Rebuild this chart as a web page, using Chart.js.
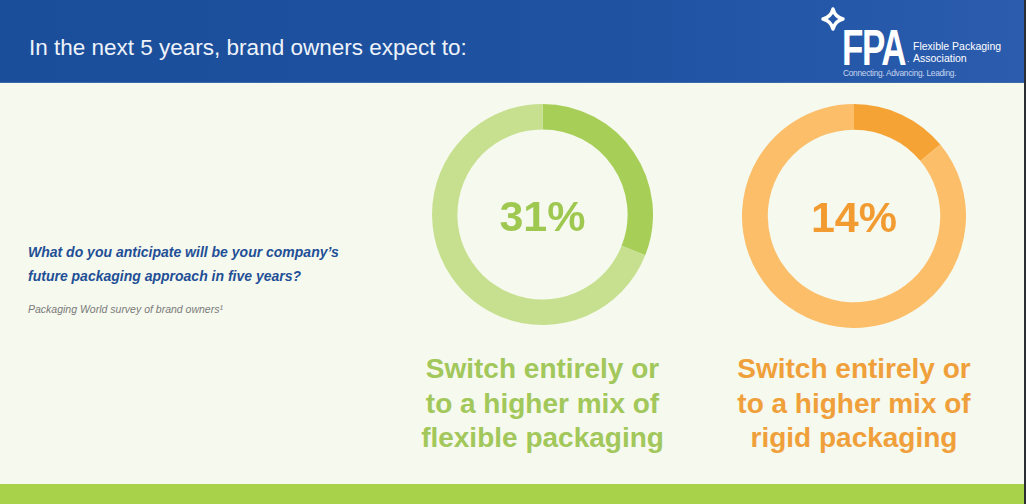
<!DOCTYPE html>
<html>
<head>
<meta charset="utf-8">
<script src="https://cdn.jsdelivr.net/npm/chart.js@4.4.1/dist/chart.umd.min.js"></script>
<style>
  html, body { margin:0; padding:0; }
  body { width:1026px; height:504px; position:relative; overflow:hidden; background:#f6f9ee; font-family:"Liberation Sans", Arial, sans-serif; }
  #header { position:absolute; left:0; top:0; width:1026px; height:82px; background:linear-gradient(90deg,#1a4e9a 0%,#1f53a2 60%,#2b5cae 100%); border-bottom:1px solid #3d6aa8; }
  #title { position:absolute; left:29px; top:34px; font-size:22.5px; color:#eef3fb; white-space:nowrap; line-height:28px; }
  #footer { position:absolute; left:0; top:484px; width:1026px; height:20px; background:#a9d24b; }
  #edge { position:absolute; left:1024px; top:0; width:2px; height:504px; background:#2b2f33; }
  .q { position:absolute; left:28px; font-size:14px; font-weight:bold; font-style:italic; color:#1f4f96; white-space:nowrap; }
  #src { position:absolute; left:28px; top:303px; font-size:10.5px; font-style:italic; color:#7a7a7a; white-space:nowrap; }
  .cv { position:absolute; }
  .pct { position:absolute; font-size:43px; font-weight:bold; text-align:center; width:200px; line-height:50px; }
  .lab { position:absolute; font-size:28px; font-weight:bold; text-align:center; width:300px; line-height:34.5px; }
  #fpa { position:absolute; left:842px; top:30px; font-size:50px; font-weight:bold; color:#fff; letter-spacing:-2px; line-height:36px; height:36px; transform:scaleX(0.7); transform-origin:left; }
  .lt { position:absolute; color:#fff; font-size:10.5px; white-space:nowrap; line-height:12px; }
  #tag { position:absolute; left:843px; top:68px; font-size:8.4px; line-height:10px; color:#c7d6ee; white-space:nowrap; letter-spacing:-0.3px; }
</style>
</head>
<body>
<div id="header"></div>
<div id="title">In the next 5 years, brand owners expect to:</div>
<svg style="position:absolute;left:821px;top:7px" width="24" height="24" viewBox="0 0 24 24">
  <path d="M12 2 Q14 10 22 12 Q14 14 12 22 Q10 14 2 12 Q10 10 12 2 Z" fill="none" stroke="#fff" stroke-width="3.4" stroke-linejoin="round"/>
</svg>
<div id="fpa">FPA</div>
<div class="lt" style="left:907px;top:55px;font-size:9px;line-height:9px;">.</div>
<div class="lt" style="left:913px;top:40px;">Flexible Packaging</div>
<div class="lt" style="left:913px;top:52px;">Association</div>
<div id="tag">Connecting. Advancing. Leading.</div>

<div class="q" style="top:244px;">What do you anticipate will be your company’s</div>
<div class="q" style="top:268px;">future packaging approach in five years?</div>
<div id="src">Packaging World survey of brand owners¹</div>

<canvas id="c0" class="cv" width="221" height="221" style="left:432px;top:104px;width:221px;height:221px;"></canvas>
<canvas id="c1" class="cv" width="224" height="224" style="left:742px;top:104px;width:224px;height:224px;"></canvas>

<div id="p0" class="pct"></div>
<div id="p1" class="pct"></div>
<div id="l0" class="lab"></div>
<div id="l1" class="lab"></div>

<div id="footer"></div>
<div id="edge"></div>

<script>
// ---- data ----
const categories = ['Flexible packaging', 'Rigid packaging'];
const shareValues = [31, 14];
const restValues = [69, 86];
const centerLabels = ['31%', '14%'];
const captionLines = [
  ['Switch entirely or', 'to a higher mix of', 'flexible packaging'],
  ['Switch entirely or', 'to a higher mix of', 'rigid packaging']
];

// ---- styles ----
const segColors = [['#a7cf57', '#c7e08f'], ['#f6a336', '#fcbe69']];
const textColors = ['#9fc851', '#f29b31'];
const labelColors = ['#a2c75a', '#f0a03a'];
const centers = [[542.5, 214.5], [854, 216]];

categories.forEach((cat, i) => {
  new Chart(document.getElementById('c' + i), {
    type: 'doughnut',
    data: {
      labels: [cat, 'Other'],
      datasets: [{
        data: [shareValues[i], restValues[i]],
        backgroundColor: segColors[i],
        borderWidth: 0,
        hoverOffset: 0
      }]
    },
    options: {
      responsive: false,
      animation: false,
      cutout: '77%',
      rotation: 0,
      layout: { padding: 0 },
      plugins: { legend: { display: false }, tooltip: { enabled: false } }
    }
  });
  const p = document.getElementById('p' + i);
  p.textContent = centerLabels[i];
  p.style.color = textColors[i];
  p.style.left = (centers[i][0] - 100) + 'px';
  p.style.top = (centers[i][1] - 24) + 'px';
  const l = document.getElementById('l' + i);
  l.innerHTML = captionLines[i].join('<br>');
  l.style.color = labelColors[i];
  l.style.left = (centers[i][0] - 150) + 'px';
  l.style.top = '352px';
});
</script>
</body>
</html>
